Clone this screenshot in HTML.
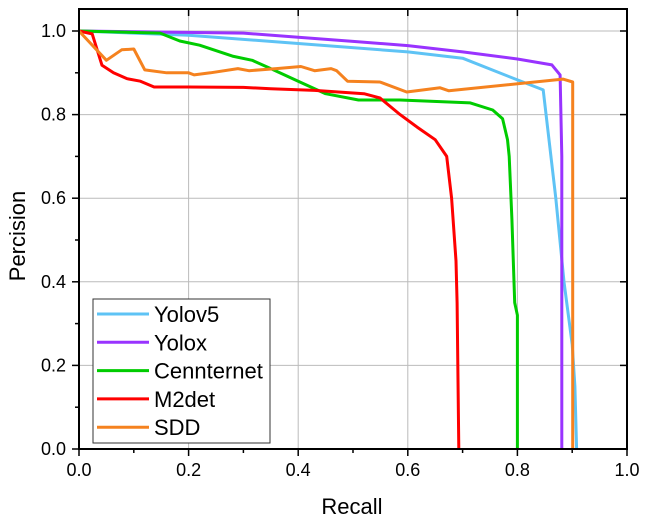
<!DOCTYPE html>
<html><head><meta charset="utf-8"><style>
body{margin:0;background:#fff}
svg{display:block;font-family:"Liberation Sans",Arial,sans-serif}
</style></head><body>
<svg id="chart" width="654" height="521">
<g id="grid"></g>
<g id="series"></g>
<g id="axes"></g>
<text x="352" y="514" font-size="22" text-anchor="middle">Recall</text>
<text transform="translate(25,236) rotate(-90)" font-size="22" text-anchor="middle">Percision</text>
<g id="legend"></g>
</svg>
<script>
const xTicks=[0,0.2,0.4,0.6,0.8,1.0];
const yTicks=[0,0.2,0.4,0.6,0.8,1.0];
const seriesNames=["Yolov5","Yolox","Cennternet","M2det","SDD"];
const seriesColors=["#5ec3f5","#9933ff","#00cc00","#ff0000","#f5821f"];
const yolov5R=[0,0.2,0.4,0.6,0.7,0.8,0.847,0.87,0.885,0.9,0.905,0.908];
const yolov5P=[1,0.99,0.97,0.95,0.935,0.883,0.859,0.6,0.4,0.25,0.15,0];
const yoloxR=[0,0.3,0.4,0.5,0.6,0.7,0.8,0.863,0.878,0.881,0.881];
const yoloxP=[1,0.995,0.985,0.975,0.965,0.95,0.933,0.919,0.895,0.7,0];
const cennR=[0,0.148,0.184,0.22,0.28,0.316,0.35,0.4,0.45,0.51,0.586,0.714,0.755,0.773,0.782,0.785,0.79,0.795,0.8,0.8];
const cennP=[1,0.995,0.976,0.966,0.94,0.93,0.91,0.88,0.85,0.835,0.835,0.828,0.811,0.79,0.74,0.7,0.55,0.35,0.32,0];
const m2R=[0,0.024,0.042,0.063,0.088,0.112,0.137,0.2,0.3,0.35,0.43,0.52,0.549,0.586,0.617,0.65,0.671,0.68,0.688,0.69,0.693];
const m2P=[1,0.993,0.918,0.9,0.886,0.88,0.866,0.866,0.865,0.862,0.858,0.85,0.84,0.8,0.77,0.74,0.7,0.6,0.45,0.35,0];
const sddR=[0,0.05,0.078,0.1,0.12,0.16,0.2,0.21,0.24,0.29,0.31,0.36,0.405,0.43,0.46,0.47,0.49,0.549,0.598,0.659,0.675,0.883,0.901,0.901];
const sddP=[1,0.93,0.955,0.957,0.907,0.9,0.9,0.895,0.9,0.91,0.905,0.91,0.915,0.905,0.91,0.905,0.88,0.878,0.854,0.864,0.857,0.885,0.878,0];
const allR=[yolov5R,yoloxR,cennR,m2R,sddR];
const allP=[yolov5P,yoloxP,cennP,m2P,sddP];
const L=79,R=627,T=9,B=449,Y1=31;
const sx=v=>L+v*(R-L);
const sy=v=>B-v*(B-Y1);
const NS="http://www.w3.org/2000/svg";
function mk(tag,attrs,parent){const e=document.createElementNS(NS,tag);for(const k in attrs)e.setAttribute(k,attrs[k]);parent.appendChild(e);return e;}
const grid=document.getElementById('grid'),axes=document.getElementById('axes'),ser=document.getElementById('series'),leg=document.getElementById('legend');
xTicks.forEach(t=>{
 if(t>0&&t<1){const g=mk('line',{x1:sx(t),x2:sx(t),y1:T,y2:B,stroke:'#bbb','stroke-width':1},grid);
 }
 mk('line',{x1:sx(t),x2:sx(t),y1:B,y2:B+7,stroke:'#000','stroke-width':1.5},axes);
 mk('line',{x1:sx(t),x2:sx(t),y1:T,y2:T+7,stroke:'#000','stroke-width':1.5},axes);
 const tx=mk('text',{x:sx(t),y:B+27,'font-size':18,'text-anchor':'middle'},axes);tx.textContent=t.toFixed(1);
 
 if(t<1){const m=sx(t+0.1);mk('line',{x1:m,x2:m,y1:B,y2:B+4,stroke:'#000','stroke-width':1.5},axes);}
});
yTicks.forEach(t=>{
 if(t>0){const g=mk('line',{x1:L,x2:R,y1:sy(t),y2:sy(t),stroke:'#bbb','stroke-width':1},grid);
 }
 mk('line',{x1:L-7,x2:L,y1:sy(t),y2:sy(t),stroke:'#000','stroke-width':1.5},axes);
 mk('line',{x1:R-7,x2:R,y1:sy(t),y2:sy(t),stroke:'#000','stroke-width':1.5},axes);
 const tx=mk('text',{x:L-13,y:sy(t)+6,'font-size':18,'text-anchor':'end'},axes);tx.textContent=t.toFixed(1);
 
 if(t<1){const m=sy(t+0.1);mk('line',{x1:L-4,x2:L,y1:m,y2:m,stroke:'#000','stroke-width':1.5},axes);}
});
const fr=mk('rect',{x:L,y:T,width:R-L,height:B-T,fill:'none',stroke:'#000','stroke-width':2},axes);

allR.forEach((rs,i)=>{
 const pts=rs.map((r,j)=>sx(r).toFixed(1)+','+sy(allP[i][j]).toFixed(1)).join(' ');
 const pl=mk('polyline',{points:pts,fill:'none',stroke:seriesColors[i],'stroke-width':3,'stroke-linejoin':'round'},ser);
 
 
});
const lb=mk('rect',{x:93,y:299,width:177,height:144,fill:'#fff',stroke:'#333','stroke-width':1},leg);

seriesNames.forEach((n,i)=>{
 const y=314+i*28.3;
 const g=mk('g',{},leg);
 
 
 mk('line',{x1:97,x2:149,y1:y,y2:y,stroke:seriesColors[i],'stroke-width':3},g);
 const t=mk('text',{x:154,y:y+8,'font-size':22},g);t.textContent=n;
});
</script>
</body></html>
